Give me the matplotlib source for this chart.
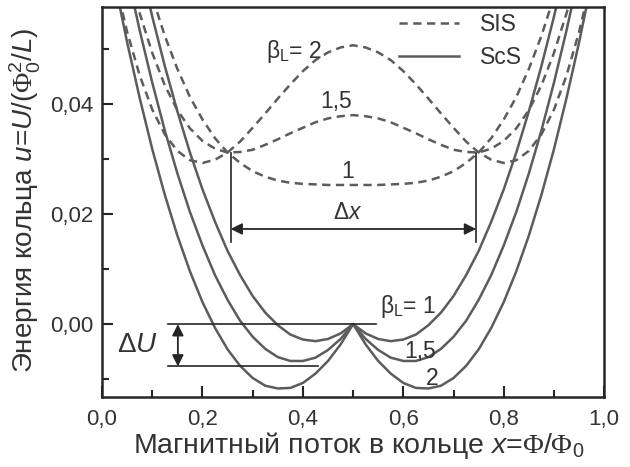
import matplotlib
matplotlib.use("Agg")
import matplotlib.pyplot as plt
from matplotlib.ticker import MultipleLocator, FuncFormatter
from matplotlib.lines import Line2D

plt.rcParams['font.family'] = ['Liberation Sans', 'DejaVu Sans']
plt.rcParams['mathtext.fontset'] = 'custom'
plt.rcParams['mathtext.rm'] = 'Liberation Serif'
plt.rcParams['mathtext.sf'] = 'Liberation Sans'
plt.rcParams['mathtext.it'] = 'Liberation Sans:italic'
plt.rcParams['mathtext.bf'] = 'Liberation Sans:bold'

# ---- data: flux x = Phi/Phi0, ring energy u for beta_L = 1, 1.5, 2 ----
x = [0.000, 0.025, 0.050, 0.075, 0.100, 0.125, 0.150, 0.175, 0.200, 0.225,
     0.250, 0.275, 0.300, 0.325, 0.350, 0.375, 0.400, 0.425, 0.450, 0.475,
     0.500, 0.525, 0.550, 0.575, 0.600, 0.625, 0.650, 0.675, 0.700, 0.725,
     0.750, 0.775, 0.800, 0.825, 0.850, 0.875, 0.900, 0.925, 0.950, 0.975,
     1.000]

betas = ['1', '1,5', '2']

sis_b1 = [0.0997, 0.0878, 0.0772, 0.0677, 0.0595, 0.0524, 0.0464, 0.0413, 0.0372, 0.0338,
          0.0312, 0.0293, 0.0278, 0.0268, 0.0261, 0.0257, 0.0255, 0.0254, 0.0253, 0.0253,
          0.0253, 0.0253, 0.0253, 0.0254, 0.0255, 0.0257, 0.0261, 0.0268, 0.0278, 0.0293,
          0.0312, 0.0338, 0.0372, 0.0413, 0.0464, 0.0524, 0.0595, 0.0677, 0.0772, 0.0878,
          0.0997]
sis_b15 = [0.0870, 0.0753, 0.0651, 0.0565, 0.0493, 0.0434, 0.0389, 0.0356, 0.0333, 0.0319,
           0.0312, 0.0313, 0.0317, 0.0326, 0.0336, 0.0347, 0.0357, 0.0367, 0.0374, 0.0378,
           0.0380, 0.0378, 0.0374, 0.0367, 0.0357, 0.0347, 0.0336, 0.0326, 0.0317, 0.0313,
           0.0312, 0.0319, 0.0333, 0.0356, 0.0389, 0.0434, 0.0493, 0.0565, 0.0651, 0.0753,
           0.0870]
sis_b2 = [0.0743, 0.0628, 0.0531, 0.0452, 0.0390, 0.0345, 0.0315, 0.0298, 0.0293, 0.0299,
          0.0312, 0.0332, 0.0357, 0.0383, 0.0410, 0.0436, 0.0460, 0.0480, 0.0494, 0.0503,
          0.0507, 0.0503, 0.0494, 0.0480, 0.0460, 0.0436, 0.0410, 0.0383, 0.0357, 0.0332,
          0.0312, 0.0299, 0.0293, 0.0298, 0.0315, 0.0345, 0.0390, 0.0452, 0.0531, 0.0628,
          0.0743]

scs_b1 = [0.0997, 0.0876, 0.0762, 0.0657, 0.0559, 0.0469, 0.0387, 0.0312, 0.0245, 0.0186,
          0.0133, 0.0089, 0.0051, 0.0021, -0.0002, -0.0019, -0.0028, -0.0031, -0.0027, -0.0017,
          0.0000, -0.0017, -0.0027, -0.0031, -0.0028, -0.0019, -0.0002, 0.0021, 0.0051, 0.0089,
          0.0133, 0.0186, 0.0245, 0.0312, 0.0387, 0.0469, 0.0559, 0.0657, 0.0762, 0.0876,
          0.0997]
scs_b15 = [0.0870, 0.0749, 0.0637, 0.0534, 0.0439, 0.0352, 0.0274, 0.0204, 0.0143, 0.0089,
           0.0044, 0.0006, -0.0023, -0.0045, -0.0060, -0.0067, -0.0067, -0.0061, -0.0047, -0.0027,
           0.0000, -0.0027, -0.0047, -0.0061, -0.0067, -0.0067, -0.0060, -0.0045, -0.0023, 0.0006,
           0.0044, 0.0089, 0.0143, 0.0204, 0.0274, 0.0352, 0.0439, 0.0534, 0.0637, 0.0749,
           0.0870]
scs_b2 = [0.0743, 0.0623, 0.0512, 0.0411, 0.0318, 0.0235, 0.0161, 0.0096, 0.0040, -0.0007,
          -0.0046, -0.0076, -0.0098, -0.0112, -0.0117, -0.0116, -0.0107, -0.0090, -0.0067, -0.0037,
          0.0000, -0.0037, -0.0067, -0.0090, -0.0107, -0.0116, -0.0117, -0.0112, -0.0098, -0.0076,
          -0.0046, -0.0007, 0.0040, 0.0096, 0.0161, 0.0235, 0.0318, 0.0411, 0.0512, 0.0623,
          0.0743]

x_ticks = [0.0, 0.2, 0.4, 0.6, 0.8, 1.0]
y_ticks = [0.00, 0.02, 0.04]

# ---- annotation anchors (data coordinates) ----
dx_left, dx_right = 0.256, 0.745
dx_top, dx_bottom, dx_arrow_y = 0.0311, 0.0150, 0.0173
dU_top, dU_bot = 0.0, -0.0077

CURVE = '#5c5c5c'
INK = '#262626'
TXT = '#333333'

fig = plt.figure(figsize=(6.30, 4.67), dpi=100)
ax = fig.add_axes([0.162, 0.1505, 0.797, 0.835])

lw = 1.8
dash = (0, (3.3, 2.2))
for s in (sis_b1, sis_b15, sis_b2):
    ax.plot(x, s, color=CURVE, lw=lw, linestyle=dash, solid_capstyle='butt')
for s in (scs_b1, scs_b15, scs_b2):
    ax.plot(x, s, color=CURVE, lw=lw, linestyle='-')

ax.set_xlim(0, 1)
ax.set_ylim(-0.0132, 0.0577)

fmt = FuncFormatter(lambda v, p: ('%.1f' % v).replace('.', ','))
fmty = FuncFormatter(lambda v, p: ('%.2f' % v).replace('.', ','))
ax.set_xticks(x_ticks)
ax.set_yticks(y_ticks)
ax.xaxis.set_minor_locator(MultipleLocator(0.1))
ax.yaxis.set_minor_locator(MultipleLocator(0.01))
ax.xaxis.set_major_formatter(fmt)
ax.yaxis.set_major_formatter(fmty)
ax.tick_params(which='both', direction='in', top=False, right=False,
               colors=INK, labelcolor=TXT, labelsize=16, width=1.5)
ax.tick_params(which='major', length=8)
ax.tick_params(axis='x', which='major', pad=9)
ax.tick_params(axis='y', which='major', pad=6)
ax.tick_params(which='minor', length=5)
for sp in ax.spines.values():
    sp.set_linewidth(1.8)
    sp.set_color(INK)

ax.set_xlabel(r'Магнитный поток в кольце $x$=$\mathrm{\Phi}$/$\mathrm{\Phi}_\mathsf{0}$',
              fontsize=20.5, color=TXT)
ax.set_ylabel(r'Энергия кольца $u$=$U$/($\mathrm{\Phi}_\mathsf{0}^\mathsf{2}$/$L$)',
              fontsize=20, color=TXT)
ax.xaxis.set_label_coords(0.51, -0.085)
ax.yaxis.set_label_coords(-0.118, 0.504)

# legend
h1 = Line2D([], [], color=CURVE, lw=lw, linestyle=dash)
h2 = Line2D([], [], color=CURVE, lw=lw)
ax.legend([h1, h2], ['SIS', 'ScS'], loc='upper left', bbox_to_anchor=(0.592, 0.984),
          frameon=False, fontsize=16.5, handlelength=2.6, handletextpad=0.9,
          labelspacing=0.45, borderpad=0, borderaxespad=0, labelcolor=TXT)

# curve labels
tk = dict(fontsize=16.5, color=TXT, ha='center', va='center')
ax.text(0.383, 0.0496, r'β$_\mathsf{L}$= 2', **tk)
ax.text(0.466, 0.0405, '1,5', **tk)
ax.text(0.490, 0.0277, '1', **tk)
ax.text(0.610, 0.0032, r'β$_\mathsf{L}$= 1', **tk)
ax.text(0.633, -0.0050, '1,5', **tk)
ax.text(0.657, -0.0098, '2', **tk)

# delta x
ax.plot([dx_left, dx_left], [dx_top, dx_bottom], color=INK, lw=1.2)
ax.plot([dx_right, dx_right], [dx_top, dx_bottom], color=INK, lw=1.2)
ax.annotate('', xy=(dx_right, dx_arrow_y), xytext=(dx_left, dx_arrow_y),
            arrowprops=dict(arrowstyle='<|-|>', color=INK, lw=1.3,
                            mutation_scale=17, shrinkA=0, shrinkB=0))
ax.text(0.490, 0.0203, r'Δ$x$', **tk)

# delta U
ax.plot([0.131, 0.546], [dU_top, dU_top], color=INK, lw=1.2)
ax.plot([0.131, 0.430], [dU_bot, dU_bot], color=INK, lw=1.2)
ax.annotate('', xy=(0.151, dU_bot), xytext=(0.151, dU_top),
            arrowprops=dict(arrowstyle='<|-|>', color=INK, lw=1.3,
                            mutation_scale=17, shrinkA=0, shrinkB=0))
ax.text(0.070, -0.0038, r'Δ$U$', fontsize=20, color=TXT, ha='center', va='center')

fig.savefig('out.png', dpi=100)
